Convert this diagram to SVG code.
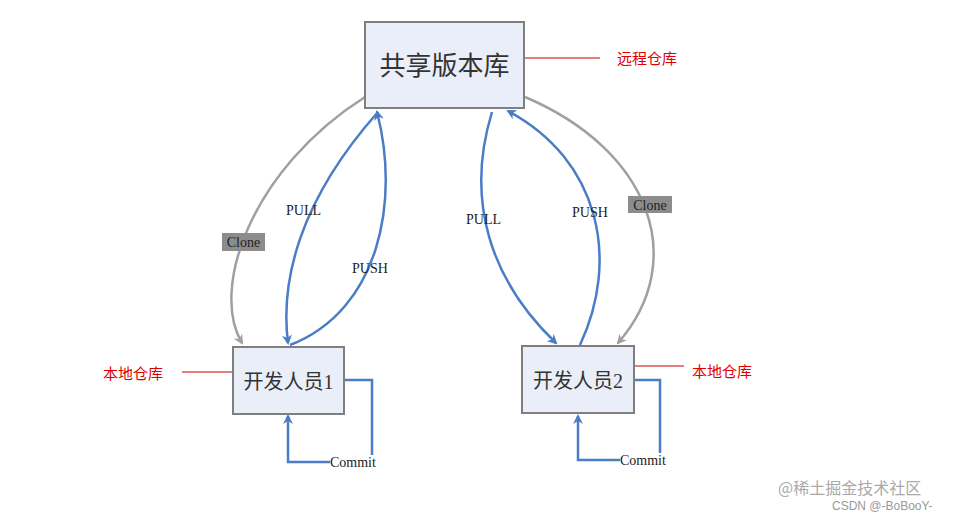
<svg xmlns="http://www.w3.org/2000/svg" width="956" height="516" viewBox="0 0 956 516">
<style>
.box{fill:#e9eef8;stroke:#7f7f7f;stroke-width:2}
.cn{font-family:"Liberation Serif","Noto Sans CJK SC",serif;fill:#333}
.lb{font-family:"Liberation Serif",serif;font-size:14px;fill:#222}
.red{font-family:"Noto Sans CJK SC",sans-serif;font-size:15px;fill:#e00000}
.b{fill:none;stroke:#4a7cc7;stroke-width:2.5}
.g{fill:none;stroke:#a0a0a0;stroke-width:2.5}
</style>
<defs>
<marker id="ab" markerWidth="10" markerHeight="10" refX="8" refY="5" orient="auto" markerUnits="userSpaceOnUse"><path d="M0,0L10,5L0,10L3,5Z" fill="#4a7cc7"/></marker>
<marker id="ag" markerWidth="10" markerHeight="10" refX="8" refY="5" orient="auto" markerUnits="userSpaceOnUse"><path d="M0,0L10,5L0,10L3,5Z" fill="#a0a0a0"/></marker>
</defs>
<rect width="956" height="516" fill="#fff"/>
<g id="connectors">
<path class="g" d="M365,97 C250,170 210,290 242,343" marker-end="url(#ag)"/>
<path class="b" d="M378,112 C300,200 280,280 288,343" marker-end="url(#ab)"/>
<path class="b" d="M290,345 C380,310 400,200 377,112" marker-end="url(#ab)"/>
<path class="b" d="M492,112 C465,200 490,280 556,343" marker-end="url(#ab)"/>
<path class="b" d="M580,345 C620,260 600,160 508,111" marker-end="url(#ab)"/>
<path class="g" d="M525,97 C650,150 690,260 618,343" marker-end="url(#ag)"/>
<path class="b" d="M345,380 H372 V455"/>
<path class="b" d="M330,462 H288 V416" marker-end="url(#ab)"/>
<path class="b" d="M635,380 H660 V453"/>
<path class="b" d="M620,460 H578 V416" marker-end="url(#ab)"/>
<path d="M524,58 H600 M182,372 H233 M634,366 H684" stroke="#d00000" stroke-width="1.2"/>
<rect x="222" y="233" width="43" height="18" fill="#8c8c8c"/>
<text x="243.5" y="247" class="lb" text-anchor="middle">Clone</text>
<rect x="628" y="196" width="44" height="17" fill="#8c8c8c"/>
<text x="650" y="210" class="lb" text-anchor="middle">Clone</text>
<text x="286" y="215" class="lb">PULL</text>
<text x="352" y="273" class="lb">PUSH</text>
<text x="466" y="224" class="lb">PULL</text>
<text x="572" y="217" class="lb">PUSH</text>
<text x="330" y="467" class="lb">Commit</text>
<text x="620" y="465" class="lb">Commit</text>
</g>
<g id="remote"><rect class="box" x="365" y="22" width="159" height="86"/><text x="444.5" y="75" class="cn" font-size="26" text-anchor="middle">共享版本库</text></g>
<g id="dev1"><rect class="box" x="233" y="347" width="111" height="67"/><text x="288.5" y="389" class="cn" font-size="20" text-anchor="middle">开发人员1</text></g>
<g id="dev2"><rect class="box" x="522" y="346" width="112" height="67"/><text x="578" y="388" class="cn" font-size="20" text-anchor="middle">开发人员2</text></g>
<g id="labels">
<text x="617" y="64" class="red">远程仓库</text>
<text x="103" y="379" class="red">本地仓库</text>
<text x="692" y="377" class="red">本地仓库</text>
</g>
<text x="778" y="494" font-family="Noto Sans CJK SC,sans-serif" font-size="16" fill="#aaa">@稀土掘金技术社区</text>
<text x="832" y="510" font-family="Liberation Sans,sans-serif" font-size="12" fill="#999">CSDN @-BoBooY-</text>
</svg>
